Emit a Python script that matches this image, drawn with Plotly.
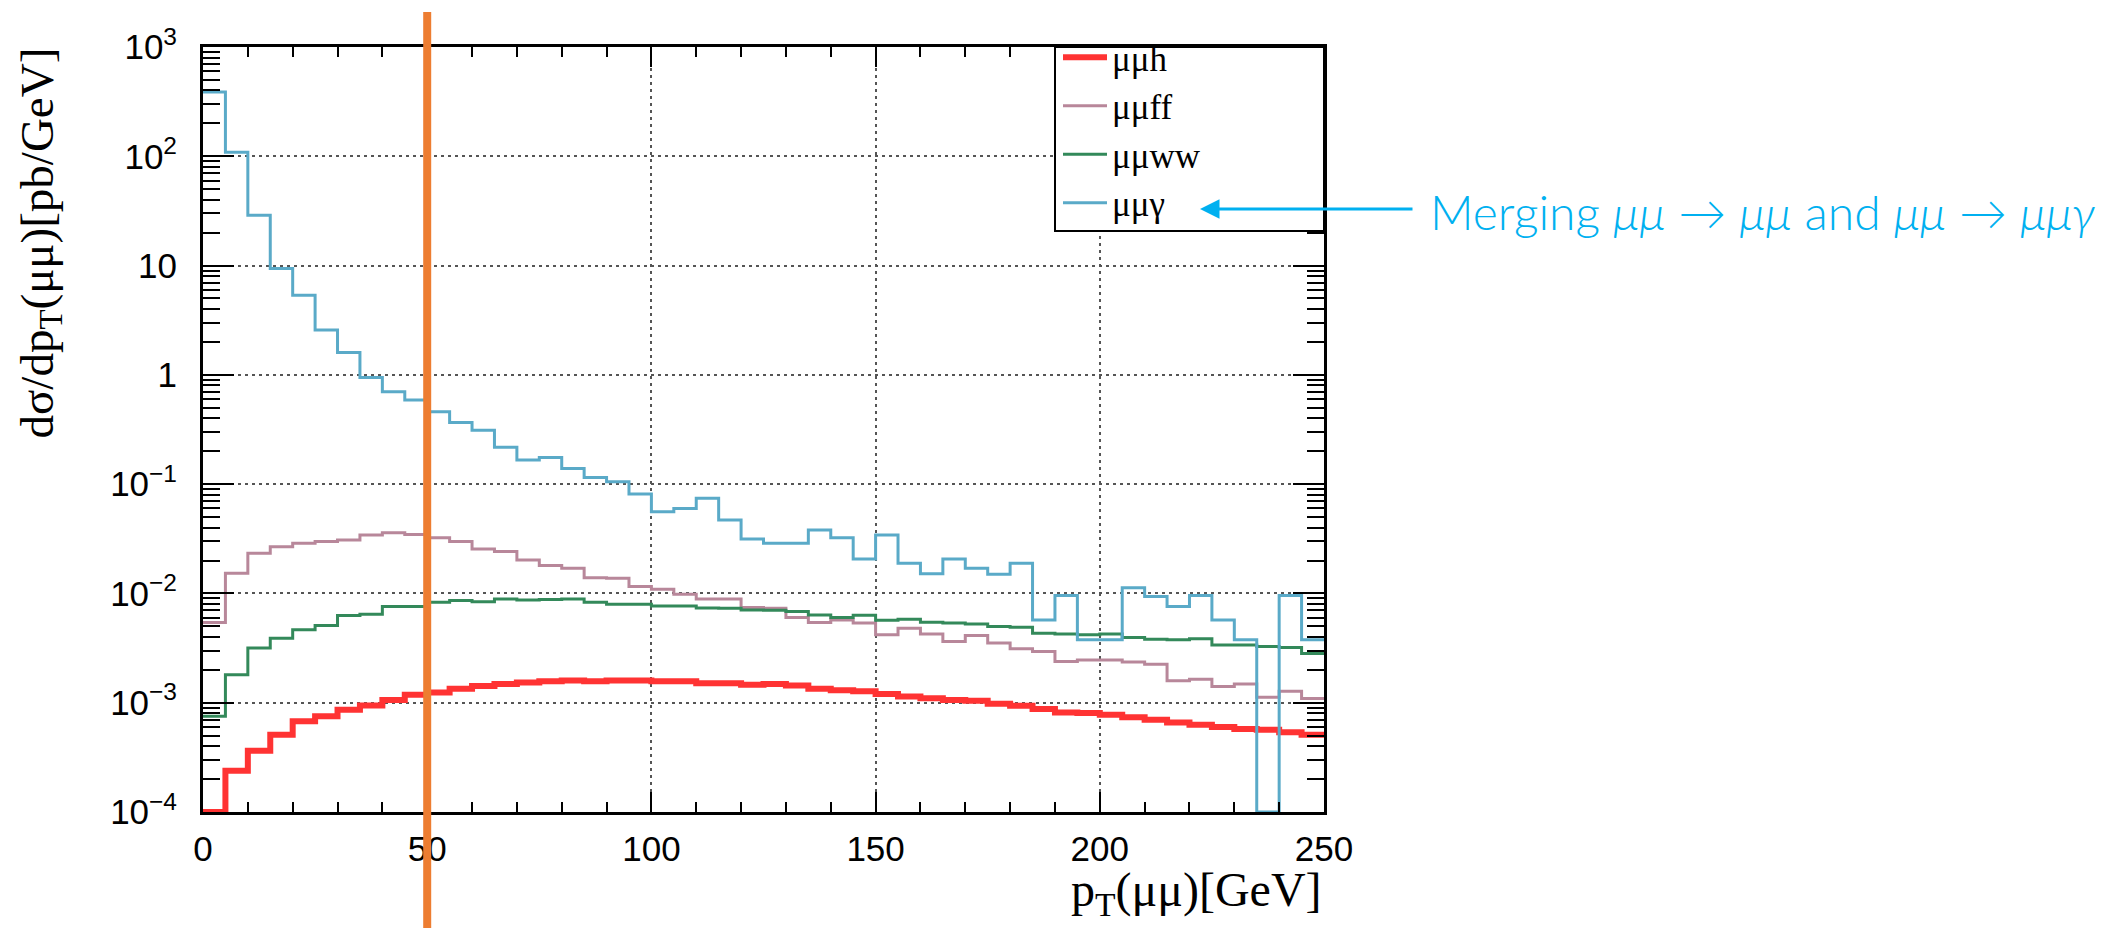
import plotly.graph_objects as go

# ---- data ----
bin_edges = [5 * i for i in range(51)]  # pT(mumu) bin edges [GeV]

mumuh = [0, 2.39e-4, 3.63e-4, 5.1e-4, 6.75e-4, 7.5e-4, 8.6e-4, 9.45e-4, 1.06e-3, 1.18e-3,
         1.24e-3, 1.34e-3, 1.42e-3, 1.48e-3, 1.53e-3, 1.57e-3, 1.60e-3, 1.57e-3, 1.60e-3, 1.60e-3,
         1.57e-3, 1.57e-3, 1.51e-3, 1.51e-3, 1.46e-3, 1.48e-3, 1.44e-3, 1.34e-3, 1.30e-3, 1.27e-3,
         1.20e-3, 1.14e-3, 1.10e-3, 1.06e-3, 1.04e-3, 9.77e-4, 9.37e-4, 8.74e-4, 8.15e-4, 8.04e-4,
         7.76e-4, 7.38e-4, 6.98e-4, 6.6e-4, 6.28e-4, 5.98e-4, 5.74e-4, 5.66e-4, 5.38e-4, 5.09e-4]

mumuff = [5.42e-3, 1.53e-2, 2.33e-2, 2.68e-2, 2.88e-2, 2.98e-2, 3.08e-2, 3.43e-2, 3.6e-2, 3.47e-2,
          3.24e-2, 2.98e-2, 2.55e-2, 2.42e-2, 2.02e-2, 1.80e-2, 1.70e-2, 1.39e-2, 1.38e-2, 1.16e-2,
          1.09e-2, 9.84e-3, 8.91e-3, 8.9e-3, 7.43e-3, 7.3e-3, 6.02e-3, 5.42e-3, 5.7e-3, 5.35e-3,
          4.18e-3, 4.81e-3, 4.25e-3, 3.63e-3, 4.12e-3, 3.51e-3, 3.11e-3, 2.94e-3, 2.38e-3, 2.46e-3,
          2.46e-3, 2.36e-3, 2.25e-3, 1.59e-3, 1.64e-3, 1.41e-3, 1.48e-3, 1.12e-3, 1.27e-3, 1.09e-3]

mumuww = [7.5e-4, 1.80e-3, 3.16e-3, 3.89e-3, 4.64e-3, 5.08e-3, 6.28e-3, 6.46e-3, 7.59e-3, 7.59e-3,
          8.31e-3, 8.6e-3, 8.4e-3, 8.91e-3, 8.7e-3, 8.8e-3, 8.9e-3, 8.3e-3, 7.97e-3, 7.97e-3,
          7.69e-3, 7.69e-3, 7.37e-3, 7.3e-3, 7.07e-3, 7.0e-3, 6.83e-3, 6.36e-3, 6.02e-3, 6.3e-3,
          5.69e-3, 5.8e-3, 5.45e-3, 5.35e-3, 5.26e-3, 4.98e-3, 4.9e-3, 4.33e-3, 4.25e-3, 4.18e-3,
          4.25e-3, 3.95e-3, 3.81e-3, 3.76e-3, 3.84e-3, 3.38e-3, 3.38e-3, 3.27e-3, 3.2e-3, 2.82e-3]

mumugamma = [387, 109, 28.8, 9.4, 5.36, 2.57, 1.60, 0.946, 0.70, 0.59,
             0.46, 0.367, 0.312, 0.217, 0.166, 0.175, 0.139, 0.115, 0.105, 0.0813,
             0.056, 0.060, 0.0741, 0.047, 0.0315, 0.0288, 0.0288, 0.0381, 0.0324, 0.0207,
             0.0343, 0.0189, 0.0151, 0.0207, 0.0170, 0.0150, 0.0189, 5.72e-3, 9.57e-3, 3.76e-3,
             3.76e-3, 0.0113, 9.37e-3, 7.59e-3, 9.57e-3, 5.72e-3, 3.76e-3, 0, 9.57e-3, 3.76e-3]

series_names = ["μμh", "μμff", "μμww", "μμγ"]
series_values = [mumuh, mumuff, mumuww, mumugamma]

y_tick_vals = [1e-4, 1e-3, 1e-2, 1e-1, 1, 10, 1e2, 1e3]
y_tick_text = ["10<sup>−4</sup>", "10<sup>−3</sup>", "10<sup>−2</sup>", "10<sup>−1</sup>",
               "1", "10", "10<sup>2</sup>", "10<sup>3</sup>"]
x_tick_vals = [0, 50, 100, 150, 200, 250]
cut_value = 50  # GeV, orange vertical line

# ---- styling ----
colors = ["#ff3333", "#b8879a", "#33895a", "#5aaac8"]
widths = [6, 3, 3, 3]
Y_FLOOR = 1e-4
SERIF = "Liberation Serif, Times New Roman, serif"
SANS = "Liberation Sans, Arial, sans-serif"

fig = go.Figure()
for name, vals, col, w in zip(series_names, series_values, colors, widths):
    yv = [v if v > 0 else Y_FLOOR for v in vals]
    fig.add_trace(go.Scatter(
        x=bin_edges, y=yv + [yv[-1]], mode="lines", name=name,
        line=dict(color=col, width=w, shape="hv"),
    ))

L, R, T, B = 195, 1316, 39, 804
W, H = 2110, 928
def px(xp):
    return (xp - L) / (R - L)
def py(yp):
    return (B - yp) / (B - T)

minor_y = [k * 10 ** e for e in range(-4, 3) for k in range(2, 10)]

fig.update_layout(
    width=W, height=H,
    margin=dict(l=L, r=W - R, t=T, b=H - B, pad=0),
    plot_bgcolor="white", paper_bgcolor="white",
    showlegend=True,
    legend=dict(x=px(1050), y=py(20), xanchor="left", yanchor="top",
                bgcolor="rgba(0,0,0,0)", borderwidth=0,
                font=dict(family=SERIF, size=35, color="black"),
                tracegroupgap=0, itemwidth=44),
    xaxis=dict(range=[0, 250], tickmode="array", tickvals=x_tick_vals,
               ticks="inside", ticklen=20, tickwidth=2, tickcolor="black",
               minor=dict(ticks="inside", ticklen=10, tickwidth=2, tickcolor="black",
                          dtick=10, tick0=0, showgrid=False),
               showgrid=True, gridcolor="#555", gridwidth=2, griddash="3px,4px",
               showline=True, linecolor="black", linewidth=3, mirror="ticks",
               zeroline=False, ticklabelstandoff=4,
               tickfont=dict(family=SANS, size=35, color="black")),
    yaxis=dict(type="log", range=[-4, 3], tickmode="array",
               tickvals=y_tick_vals, ticktext=y_tick_text,
               ticks="inside", ticklen=31, tickwidth=2, tickcolor="black",
               minor=dict(ticks="inside", ticklen=17, tickwidth=2, tickcolor="black",
                          tickmode="array", tickvals=minor_y, showgrid=False),
               showgrid=True, gridcolor="#555", gridwidth=2, griddash="3px,4px",
               showline=True, linecolor="black", linewidth=3, mirror="ticks",
               zeroline=False, ticklabelstandoff=16,
               tickfont=dict(family=SANS, size=35, color="black")),
    shapes=[
        dict(type="rect", xref="paper", yref="paper",
             x0=px(1047), x1=1.0, y0=py(223), y1=1.0,
             line=dict(color="black", width=2), fillcolor="white", layer="above"),
        dict(type="line", xref="x", yref="paper", x0=cut_value, x1=cut_value,
             y0=py(928), y1=py(4), line=dict(color="#ed7d31", width=8), layer="above"),
    ],
    annotations=[
        dict(text="dσ/dp<sub>T</sub>(μμ)[pb/GeV]", textangle=-90,
             xref="paper", yref="paper", x=px(32), y=py(38),
             xanchor="center", yanchor="top", showarrow=False,
             font=dict(family=SERIF, size=47, color="black")),
        dict(text="p<sub>T</sub>(μμ)[GeV]",
             xref="paper", yref="paper", x=1.0, y=py(853),
             xanchor="right", yanchor="top", showarrow=False,
             font=dict(family=SERIF, size=48, color="black")),
        dict(text="Merging <i>μμ</i> → <i>μμ</i> and <i>μμ</i> → <i>μμγ</i>",
             xref="paper", yref="paper", x=px(1420), y=py(203),
             xanchor="left", yanchor="middle", showarrow=False,
             font=dict(family="Lato, Noto Sans, sans-serif", size=48, color="#00b0f0", weight=300)),
        dict(text="", xref="paper", yref="paper", x=px(1192), y=py(201),
             ax=214, ay=0, showarrow=True, arrowhead=2, arrowsize=1.3,
             arrowwidth=3, arrowcolor="#00b0f0"),
    ],
)

fig.write_html("out.html")
